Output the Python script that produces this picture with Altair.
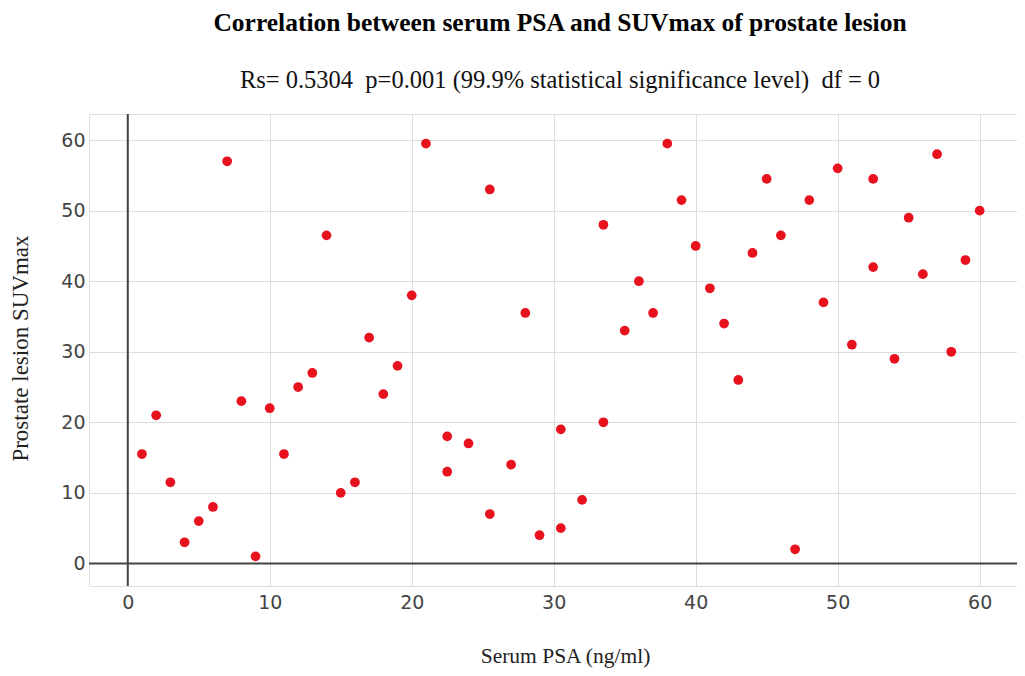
import altair as alt
import pandas as pd

# Serum PSA (ng/ml)
psa = [1, 2, 3, 4, 5, 6, 7, 8, 9, 10,
       11, 12, 13, 14, 15, 16, 17, 18, 19, 20,
       21, 22.5, 22.5, 24, 25.5, 25.5, 27, 28, 29, 30.5,
       30.5, 32, 33.5, 33.5, 35, 36, 37, 38, 39, 40,
       41, 42, 43, 44, 45, 46, 47, 48, 49, 50,
       51, 52.5, 52.5, 54, 55, 56, 57, 58, 59, 60]
# Prostate lesion SUVmax
suv = [15.5, 21, 11.5, 3, 6, 8, 57, 23, 1, 22,
       15.5, 25, 27, 46.5, 10, 11.5, 32, 24, 28, 38,
       59.5, 18, 13, 17, 53, 7, 14, 35.5, 4, 19,
       5, 9, 48, 20, 33, 40, 35.5, 59.5, 51.5, 45,
       39, 34, 26, 44, 54.5, 46.5, 2, 51.5, 37, 56,
       31, 54.5, 42, 29, 49, 41, 58, 30, 43, 50]

x_ticks = [0, 10, 20, 30, 40, 50, 60]
y_ticks = [0, 10, 20, 30, 40, 50, 60]

NB = "\u00a0"
title_text = "Correlation between serum PSA and SUVmax of prostate lesion"
subtitle_text = ("Rs=" + NB + "0.5304" + NB + NB + "p=0.001" + NB + "(99.9%" + NB + "statistical"
                 + NB + "significance" + NB + "level)" + NB + NB + "df" + NB + "=" + NB + "0")

df = pd.DataFrame({"psa": psa, "suv": suv})
zero = pd.DataFrame({"z": [0]})

xscale = alt.Scale(domain=[-2.73, 62.63], nice=False, zero=False)
yscale = alt.Scale(domain=[-3.2, 63.7], nice=False, zero=False)

x_axis = alt.Axis(
    title="Serum PSA (ng/ml)", values=x_ticks, grid=True, domain=False, ticks=False,
    labelFont="DejaVu Sans", labelFontSize=19, labelColor="#444444", labelPadding=7,
    titleFont="Liberation Serif", titleFontSize=21.5, titleFontWeight="normal",
    titleColor="#222222", titleX=476, titleY=70, titleBaseline="middle",
    titleAnchor="start", titleAlign="center",
)
y_axis = alt.Axis(
    title="Prostate lesion SUVmax", values=y_ticks, grid=True, domain=False, ticks=False,
    labelFont="DejaVu Sans", labelFontSize=19, labelColor="#444444", labelPadding=4,
    titleFont="Liberation Serif", titleFontSize=23, titleFontWeight="normal",
    titleColor="#222222", titleX=-69, titleY=234, titleAngle=270,
    titleBaseline="middle", titleAlign="center",
)

points = alt.Chart(df).mark_circle(size=95, opacity=1, color="#e8121f").encode(
    x=alt.X("psa:Q", scale=xscale, axis=x_axis),
    y=alt.Y("suv:Q", scale=yscale, axis=y_axis),
)

vzero = alt.Chart(zero).mark_rule(color="#444444", strokeWidth=2).encode(
    x=alt.X("z:Q", scale=xscale)
)
hzero = alt.Chart(zero).mark_rule(color="#444444", strokeWidth=2).encode(
    y=alt.Y("z:Q", scale=yscale)
)

chart = alt.layer(vzero, hzero, points).properties(
    width=928,
    height=472,
    title=alt.TitleParams(
        text=title_text,
        subtitle=subtitle_text,
        font="Liberation Serif", fontSize=25.5, fontWeight="bold", color="#000000",
        subtitleFont="Liberation Serif", subtitleFontSize=24.5, subtitleColor="#111111",
        subtitlePadding=32, anchor="middle", offset=21, dx=7,
    ),
    padding={"left": 81, "top": 106, "right": 0, "bottom": 82},
    autosize=alt.AutoSizeParams(type="none"),
).configure_view(strokeWidth=0).configure_axis(
    gridColor="#ececec", gridWidth=1
).configure(background="white")

chart.save("out.html", embed_options={"renderer": "svg", "actions": False})
